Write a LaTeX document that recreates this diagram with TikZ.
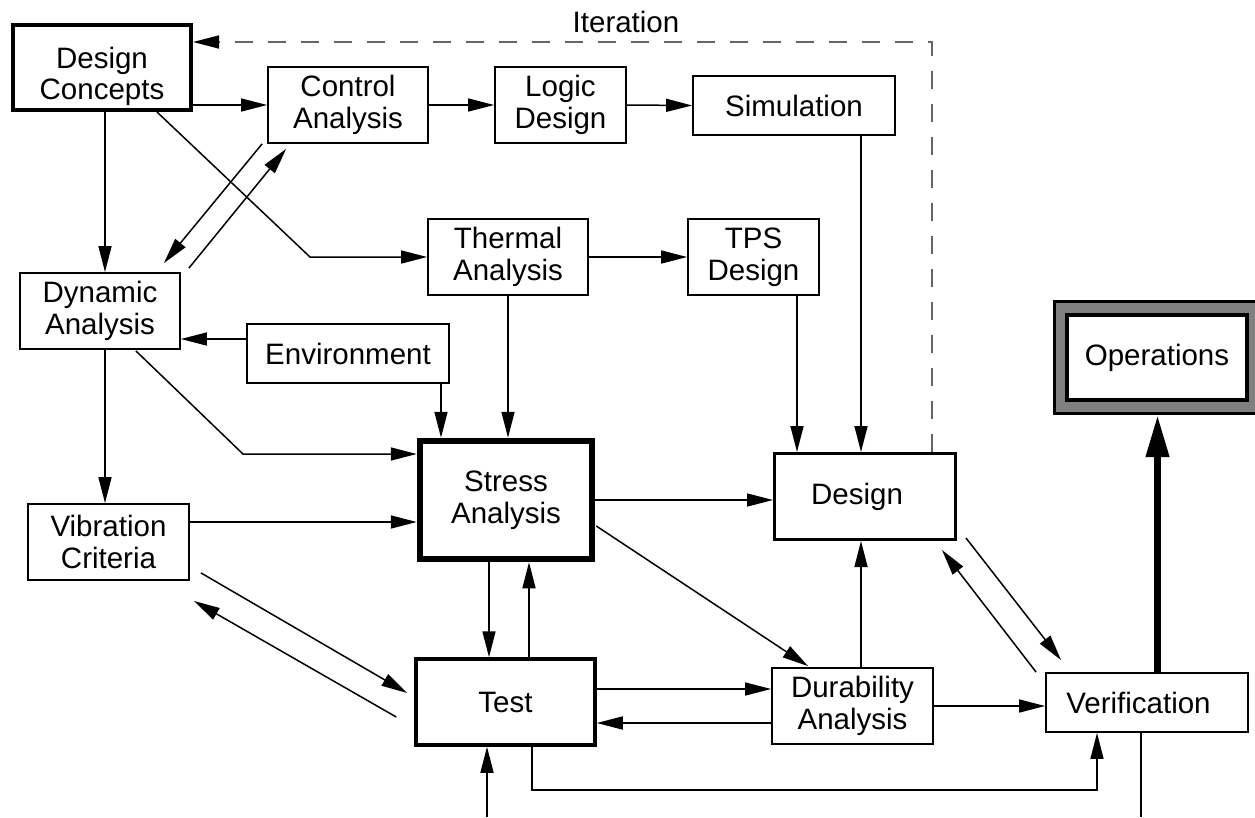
\documentclass[tikz,border=0pt]{standalone}
\usepackage{fontspec}
\setmainfont{Liberation Sans}
\usetikzlibrary{arrows.meta,calc}
\begin{document}
\begin{tikzpicture}[x=1pt,y=-1pt,
  font=\fontsize{29.5}{32}\selectfont,
  box/.style={draw, line width=1.8pt, align=center, inner sep=0pt},
  arr/.style={line width=1.5pt, -{Triangle[length=26pt,width=13pt]}},
  ln/.style={line width=1.5pt}]
\useasboundingbox (0,0) rectangle (1255,817);

% nodes
\node[box, line width=4pt, minimum width=178pt, minimum height=85pt] (dc) at (102,67.5)
  {\raisebox{-10pt}[\height][\depth]{\begin{tabular}{@{}c@{}}Design\\[-1pt]Concepts\end{tabular}}};
\node[box, minimum width=160pt, minimum height=76pt] (ctl) at (348,105) {Control\\Analysis};
\node[box, minimum width=131pt, minimum height=76pt] (logic) at (560.5,105) {Logic\\Design};
\node[box, minimum width=202pt, minimum height=59pt] (sim) at (794,105.5) {Simulation};
\node[box, minimum width=160pt, minimum height=76pt] (thermal) at (508,257) {Thermal\\Analysis};
\node[box, minimum width=131pt, minimum height=76pt] (tps) at (753.5,257) {TPS\\Design};
\node[box, minimum width=160pt, minimum height=76pt] (dyn) at (100,311) {Dynamic\\Analysis};
\node[box, minimum width=202pt, minimum height=59pt] (env) at (348,353.5) {Environment};
\node[box, minimum width=161pt, minimum height=76pt] (vib) at (108.5,542) {Vibration\\Criteria};
\node[box, line width=6.5pt, minimum width=172pt, minimum height=118pt] (stress) at (506,500) {Stress\\Analysis};
\node[box, line width=3pt, minimum width=181pt, minimum height=86pt] (design) at (865,496.5) {Design\hspace{16pt}};
\node[box, line width=3.5pt, minimum width=179pt, minimum height=86pt] (test) at (505.5,702) {Test};
\node[box, minimum width=161pt, minimum height=76pt] (dur) at (852.5,706) {Durability\\Analysis};
\node[box, minimum width=202pt, minimum height=59pt] (ver) at (1147,702.5) {Verification\hspace{17pt}};
\node[draw, fill=black!50, line width=3pt, minimum width=206pt, minimum height=112pt, inner sep=0pt] (opsframe) at (1157.5,357.5) {};
\node[box, fill=white, line width=4pt, minimum width=180pt, minimum height=85pt] (ops) at (1157,357.5) {Operations};
\node (iter) at (626,22) {Iteration};

% helper coordinates
\coordinate (itc) at (932,42);
\coordinate (xA) at (105,0);
\coordinate (xSim) at (861,0);
\coordinate (xTps) at (797,0);
\coordinate (xEnv) at (441,0);
\coordinate (xSt1) at (489,0);
\coordinate (xSt2) at (529,0);
\coordinate (xTo) at (532,0);
\coordinate (bendT) at (310,257);
\coordinate (bendD) at (243,454);
\coordinate (tvb) at (1097,790);
\coordinate (inT) at (487,817);
\coordinate (outV) at (1141,817);

% iteration loop
\draw[line width=1.5pt, draw=black!60, dash pattern=on 18pt off 15pt,
  -{Triangle[length=26pt,width=13pt,color=black]}]
  (design.north -| itc) -- (itc) -- (dc.east |- itc);

% connectors
\draw[arr] (dc.east |- ctl.west) -- (ctl.west);
\draw[arr] (ctl.east) -- (logic.west);
\draw[arr] (logic.east) -- (sim.west);
\draw[arr] (sim.south -| xSim) -- (design.north -| xSim);
\draw[arr] (tps.south -| xTps) -- (design.north -| xTps);
\draw[arr] (thermal.east) -- (tps.west);
\draw[arr] ($(dc.south east)+(-36,0)$) -- (bendT) -- (thermal.west);
\draw[arr] (dc.south -| xA) -- (dyn.north -| xA);
\draw[arr] ($(ctl.south west)+(-5,0)$) -- ($(dyn.north east)+(-17,-9)$);
\draw[arr] ($(dyn.north east)+(8,-4)$) -- ($(ctl.south west)+(19,5)$);
\draw[arr] ($(env.west)+(0,-14.5)$) -- ($(dyn.east)+(0,28)$);
\draw[arr] (env.south -| xEnv) -- (stress.north -| xEnv);
\draw[arr] (thermal.south) -- (stress.north -| thermal.south);
\draw[arr] ($(dyn.south east)+(-45,1)$) -- (bendD) -- (stress.west |- bendD);
\draw[arr] (dyn.south -| xA) -- (vib.north -| xA);
\draw[arr] ($(vib.east)+(0,-20)$) -- ($(stress.west)+(0,22)$);
\draw[arr] (stress.east) -- (design.west |- stress.east);
\draw[arr] ($(stress.east)+(1,26)$) -- ($(dur.north west)+(37,-1)$);
\draw[arr] (stress.south -| xSt1) -- (test.north -| xSt1);
\draw[arr] (test.north -| xSt2) -- (stress.south -| xSt2);
\draw[arr] ($(test.east)+(0,-13)$) -- ($(dur.west)+(0,-17)$);
\draw[arr] ($(dur.west)+(0,17)$) -- ($(test.east)+(0,21)$);
\draw[arr] (dur.north -| xSim) -- (design.south -| xSim);
\draw[arr] (dur.east) -- (ver.west |- dur.east);
\draw[arr] (test.south -| xTo) |- (tvb) -- (ver.south -| tvb);
\draw[arr] (inT) -- (test.south -| inT);
\draw[ln] (ver.south -| outV) -- (outV);
\draw[line width=7pt, -{Triangle[length=42pt,width=22pt]}] (ver.north -| opsframe.south) -- (opsframe.south);
\draw[arr] ($(design.south east)+(9,-3)$) -- ($(ver.north west)+(16,-12)$);
\draw[arr] ($(ver.north west)+(-9,0)$) -- ($(design.south east)+(-15,9)$);
\draw[arr] ($(vib.south east)+(11,-8)$) -- ($(test.west)+(-7,-9)$);
\draw[arr] ($(test.west)+(-18,15)$) -- ($(vib.south east)+(4,20)$);
\end{tikzpicture}
\end{document}
